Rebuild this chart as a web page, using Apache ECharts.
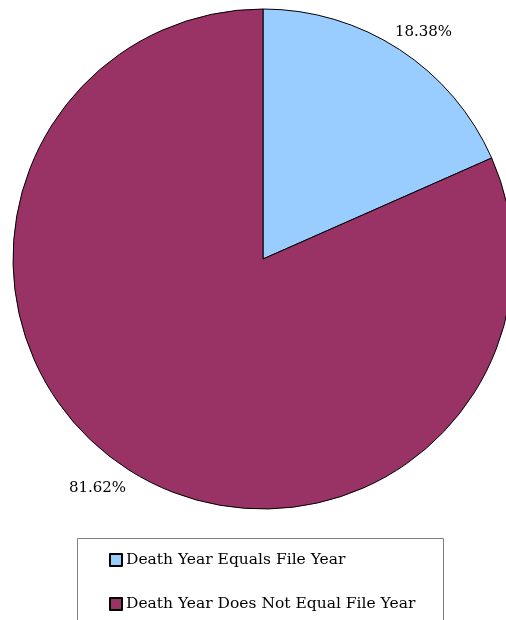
<!DOCTYPE html>
<html>
<head>
<meta charset="utf-8">
<script src="https://cdn.jsdelivr.net/npm/echarts@6/dist/echarts.min.js"></script>
<style>
html,body{margin:0;padding:0;background:#fff;}
#chart{width:506px;height:620px;}
</style>
</head>
<body>
<div id="chart"></div>
<script>
var categories = ['Death Year Equals File Year', 'Death Year Does Not Equal File Year'];
var values = [18.38, 81.62];
var colors = ['#99CCFF', '#993366'];

var chart = echarts.init(document.getElementById('chart'), null, {renderer: 'canvas'});
var FONT = '"DejaVu Serif", "Liberation Serif", serif';
chart.setOption({
  animation: false,
  backgroundColor: '#ffffff',
  graphic: [{
    type: 'rect',
    shape: {x: 77.5, y: 538.5, width: 366, height: 100},
    style: {fill: '#fff', stroke: '#808080', lineWidth: 1},
    z: 0
  }],
  legend: {
    orient: 'vertical',
    left: 109,
    top: 552,
    height: 80,
    padding: 0,
    itemWidth: 12,
    itemHeight: 12,
    itemGap: 28,
    icon: 'rect',
    textStyle: {fontFamily: FONT, fontSize: 15.5, color: '#000', lineHeight: 16, padding: [0,0,0,-1]},
    data: categories
  },
  series: [{
    type: 'pie',
    center: [263, 259],
    radius: 250,
    startAngle: 90,
    clockwise: true,
    avoidLabelOverlap: false,
    itemStyle: {borderColor: '#000', borderWidth: 1},
    emphasis: {disabled: true},
    label: {
      show: true,
      position: 'outside',
      formatter: function (p) { return p.value.toFixed(2) + '%'; },
      fontFamily: FONT,
      fontSize: 15,
      color: '#000'
    },
    labelLine: {show: false, length: 10, length2: 5},
    labelLayout: function (p) {
      return p.dataIndex === 0 ? {dx: -20, dy: -9} : {dx: 15, dy: 11};
    },
    data: categories.map(function (c, i) {
      return {name: c, value: values[i], itemStyle: {color: colors[i]}};
    })
  }]
});
</script>
</body>
</html>
